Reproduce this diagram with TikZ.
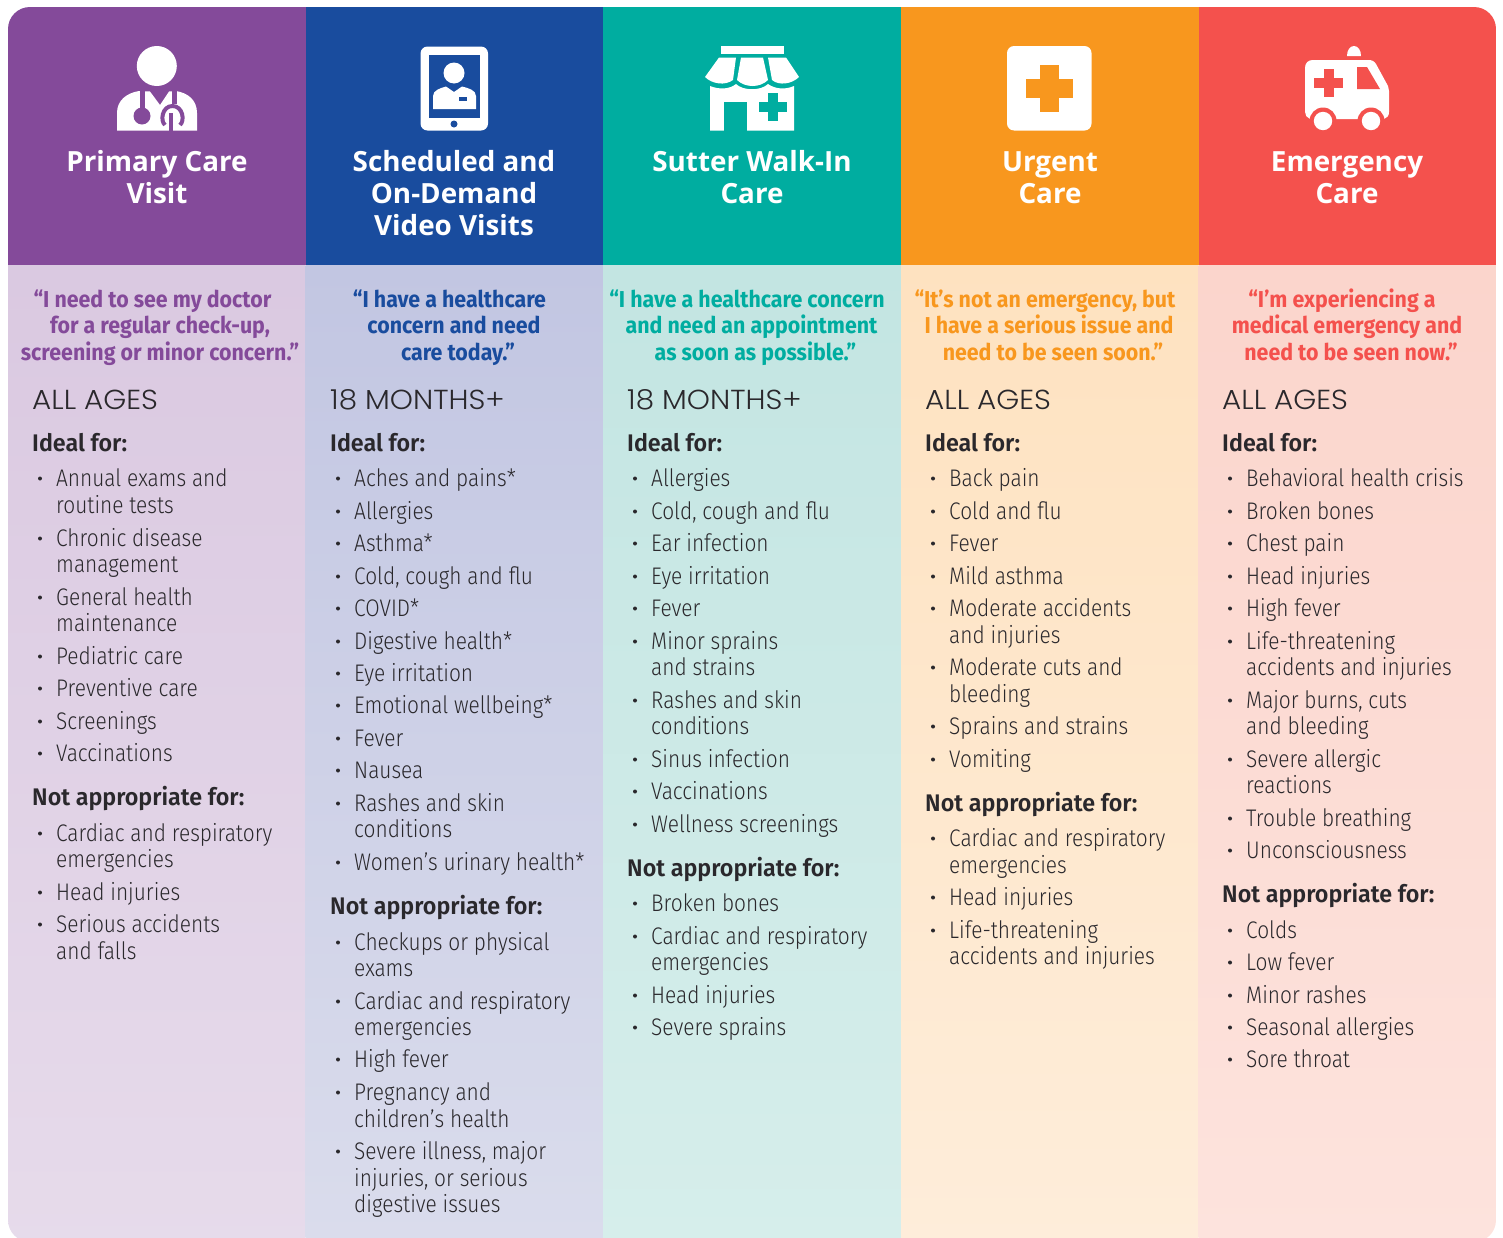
\documentclass[tikz,border=0pt]{standalone}
\usepackage{fontspec}
\setmainfont{Fira Sans}
\newfontfamily\bodyf[FakeStretch=0.87]{Fira Sans Light}
\newfontfamily\boldf[FakeStretch=0.97]{Fira Sans SemiBold}
\newfontfamily\quotef[FakeStretch=0.93]{Fira Sans Bold}
\newfontfamily\headf{Open Sans}
\newfontfamily\agef[FakeStretch=1.07]{Poppins Light}
\definecolor{cPurple}{HTML}{844A9A}
\definecolor{cBlue}{HTML}{194C9E}
\definecolor{cTeal}{HTML}{00ADA0}
\definecolor{cOrange}{HTML}{F8971E}
\definecolor{cRed}{HTML}{F4514D}
\definecolor{cInk}{HTML}{2A282C}
\newcounter{tn}
\def\cx{0}
\tikzset{
 x=1pt,y=-1pt,
 bodytxt/.style={anchor=base west,inner sep=0pt,text=cInk,font=\bodyf\fontsize{24}{26}\selectfont},
 headtxt/.style={anchor=base west,inner sep=0pt,text=cInk,font=\boldf\fontsize{24}{26}\selectfont},
 agetxt/.style={anchor=base west,inner sep=0pt,text=cInk,font=\agef\fontsize{27.5}{30}\selectfont},
 titletxt/.style={anchor=base,inner sep=0pt,text=white,font=\headf\bfseries\fontsize{27.8}{30}\selectfont},
 quotetxt/.style={anchor=base,inner sep=0pt,font=\quotef\fontsize{23}{26}\selectfont},
 icon/.style={fill=white,draw=none},
}
\newcommand\BI[2]{\fill[cInk] (\cx+8,#1+0.5) circle (2);\CI{#1}{#2}}
\newcommand\CI[2]{\stepcounter{tn}\node[bodytxt] (t\arabic{tn}) at (\cx+24,#1+8) {#2};}
\newcommand\HE[2]{\stepcounter{tn}\node[headtxt] (t\arabic{tn}) at (\cx,#1+8) {#2};}
\newcommand\AG[1]{\stepcounter{tn}\node[agetxt] (t\arabic{tn}) at (\cx,409.5) {#1};}
\newcommand\TI[3]{\stepcounter{tn}\node[titletxt] (t\arabic{tn}) at (#1,#2+1) {#3};}
\newcommand\QU[4]{\stepcounter{tn}\node[quotetxt,text=#1] (t\arabic{tn}) at (#2,#3+0.5) {#4};}
\begin{document}
\begin{tikzpicture}
\useasboundingbox (0,0) rectangle (1503,1237);
\begin{scope}
\clip[rounded corners=22pt] (8,7) rectangle (1496,1242);
\fill[cPurple] (8,7) rectangle (305.5,265);
\fill[cBlue] (305.5,7) rectangle (603,265);
\fill[cTeal] (603,7) rectangle (901,265);
\fill[cOrange] (901,7) rectangle (1198.5,265);
\fill[cRed] (1198.5,7) rectangle (1496,265);
\shade[top color=cPurple!30!white,bottom color=cPurple!20!white] (8,265) rectangle (305.5,1242);
\shade[top color={rgb,255:red,194;green,198;blue,226},bottom color={rgb,255:red,218;green,220;blue,236}] (305.5,265) rectangle (603,1242);
\shade[top color={rgb,255:red,195;green,229;blue,226},bottom color={rgb,255:red,214;green,238;blue,235}] (603,265) rectangle (901,1242);
\shade[top color={rgb,255:red,254;green,226;blue,192},bottom color={rgb,255:red,254;green,237;blue,218}] (901,265) rectangle (1198.5,1242);
\shade[top color={rgb,255:red,251;green,213;blue,204},bottom color={rgb,255:red,253;green,227;blue,221}] (1198.5,265) rectangle (1496,1242);
\end{scope}
% doctor icon
\fill[icon] (156.8,66) circle (20);
\fill[icon] (117,130.5) -- (117,113) .. controls (117,100) and (127,93) .. (139,91) -- (150,91.5) -- (160,105) -- (169,91.5) -- (176,91) .. controls (188,93) and (197,100) .. (197,113) -- (197,130.5) -- cycle;
\draw[cPurple,line width=5pt] (142.5,90) -- (142.5,110);
\fill[cPurple] (142,116) circle (8.5);
\draw[cPurple,line width=5pt] (174.5,90) -- (174.5,104);
\draw[cPurple,line width=4pt] (165,125) .. controls (160,121) and (162,106) .. (172.5,106) .. controls (183,106) and (185,121) .. (180,125);
\draw[cPurple,line width=3.6pt] (171,113) -- (171,130.5);
% tablet icon
\fill[icon,rounded corners=7pt] (420.5,46.5) rectangle (488,130.5);
\fill[cBlue] (429,55) rectangle (480,118);
\fill[icon] (454,73) circle (10.5);
\fill[icon] (433,109) -- (433,96) .. controls (433,90) and (441,88) .. (446,86.5) -- (454,92) -- (462,86.5) .. controls (468,88) and (476,90) .. (476,96) -- (476,109) -- cycle;
\fill[cBlue] (459,97) rectangle (467,101);
\fill[cBlue] (454,124) circle (3.5);
% store icon
\fill[icon] (721,46) rectangle (784,54);
\fill[icon] (719,57.5) -- (736,57.5) -- (733,80) .. controls (725,86) and (712,84) .. (705,77) -- cycle;
\fill[icon] (741,57.5) -- (763,57.5) -- (768,80) .. controls (760,88) and (745,88) .. (737,80) -- cycle;
\fill[icon] (768,57.5) -- (786,57.5) -- (799,77) .. controls (792,84) and (779,86) .. (772,80) -- cycle;
\fill[icon] (710,86) .. controls (720,90) and (730,89) .. (736,84) .. controls (743,91) and (761,91) .. (768,84) .. controls (775,89) and (785,90) .. (794,86) -- (794,130.5) -- (710,130.5) -- cycle;
\fill[cTeal] (724,102) rectangle (747,131);
\fill[cTeal] (768.3,93) rectangle (778,121);
\fill[cTeal] (759,102.3) rectangle (787,112);
% urgent icon
\fill[icon,rounded corners=7pt] (1007,46) rectangle (1091.5,130.5);
\fill[cOrange] (1040,65) rectangle (1059,112);
\fill[cOrange] (1026,79) rectangle (1073,98);
% ambulance icon
\fill[icon] (1347,56) .. controls (1347,50) and (1350,46) .. (1354,46) .. controls (1358,46) and (1361,50) .. (1361,56) -- cycle;
\fill[icon] (1305,68) .. controls (1305,63) and (1308,60) .. (1313,60) -- (1368,60) .. controls (1372,60) and (1374,61) .. (1376,64) -- (1388,86) .. controls (1389,88) and (1389,89) .. (1389,91) -- (1389,112) .. controls (1389,116) and (1387,118) .. (1384,119) -- (1310,119) .. controls (1307,118) and (1305,115) .. (1305,112) -- cycle;
\fill[cRed] (1323,121) circle (13.5);
\fill[cRed] (1371,121) circle (13.5);
\fill[icon] (1323,121) circle (9.2);
\fill[icon] (1371,121) circle (9.2);
\fill[cRed] (1357,67) -- (1367,67) -- (1380,89) -- (1357,89) -- cycle;
\fill[cRed] (1323.5,69) rectangle (1333.5,97);
\fill[cRed] (1314,78) rectangle (1343,88);
% titles
\TI{157}{170.7}{Primary Care}\TI{157}{202.5}{Visit}
\TI{454}{170.7}{Scheduled and}\TI{454}{202.5}{On-Demand}\TI{454}{234.5}{Video Visits}
\TI{752}{170.7}{Sutter Walk-In}\TI{752}{202.5}{Care}
\TI{1050}{170.7}{Urgent}\TI{1050}{202.5}{Care}
\TI{1347}{170.7}{Emergency}\TI{1347}{202.5}{Care}
% quotes
\QU{cPurple}{152.5}{306.7}{“I need to see my doctor}
\QU{cPurple}{160}{333}{for a regular check-up,}
\QU{cPurple}{160}{360}{screening or minor concern.”}
\QU{cBlue}{449.5}{306.7}{“I have a healthcare}
\QU{cBlue}{454}{333}{concern and need}
\QU{cBlue}{458}{360}{care today.”}
\QU{cTeal}{747}{306.7}{“I have a healthcare concern}
\QU{cTeal}{751.5}{333}{and need an appointment}
\QU{cTeal}{755.5}{360}{as soon as possible.”}
\QU{cOrange}{1045}{306.7}{“It’s not an emergency, but}
\QU{cOrange}{1049}{333}{I have a serious issue and}
\QU{cOrange}{1053}{360}{need to be seen soon.”}
\QU{cRed}{1342}{306.7}{“I’m experiencing a}
\QU{cRed}{1347}{333}{medical emergency and}
\QU{cRed}{1351}{360}{need to be seen now.”}
% column 1
\def\cx{32}
\AG{ALL AGES}\HE{443}{Ideal for:}
\BI{478}{Annual exams and}\CI{505}{routine tests}
\BI{538}{Chronic disease}\CI{564}{management}
\BI{597}{General health}\CI{623}{maintenance}
\BI{656}{Pediatric care}\BI{688}{Preventive care}\BI{721}{Screenings}\BI{753}{Vaccinations}
\HE{797}{Not appropriate for:}
\BI{833}{Cardiac and respiratory}\CI{859}{emergencies}
\BI{892}{Head injuries}
\BI{924}{Serious accidents}\CI{951}{and falls}
% column 2
\def\cx{330}
\AG{18 MONTHS+}\HE{443}{Ideal for:}
\BI{478}{Aches and pains*}\BI{511}{Allergies}\BI{543}{Asthma*}
\BI{576}{Cold, cough and flu}\BI{608}{COVID*}\BI{641}{Digestive health*}
\BI{673}{Eye irritation}\BI{705}{Emotional wellbeing*}\BI{738}{Fever}\BI{770}{Nausea}
\BI{803}{Rashes and skin}\CI{829}{conditions}
\BI{862}{Women’s urinary health*}
\HE{906}{Not appropriate for:}
\BI{942}{Checkups or physical}\CI{968}{exams}
\BI{1001}{Cardiac and respiratory}\CI{1027}{emergencies}
\BI{1059}{High fever}
\BI{1092}{Pregnancy and}\CI{1119}{children’s health}
\BI{1151}{Severe illness, major}\CI{1178}{injuries, or serious}\CI{1204}{digestive issues}
% column 3
\def\cx{627}
\AG{18 MONTHS+}\HE{443}{Ideal for:}
\BI{478}{Allergies}\BI{511}{Cold, cough and flu}\BI{543}{Ear infection}
\BI{576}{Eye irritation}\BI{608}{Fever}
\BI{641}{Minor sprains}\CI{667}{and strains}
\BI{700}{Rashes and skin}\CI{726}{conditions}
\BI{759}{Sinus infection}\BI{791}{Vaccinations}\BI{824}{Wellness screenings}
\HE{868}{Not appropriate for:}
\BI{903}{Broken bones}
\BI{936}{Cardiac and respiratory}\CI{962}{emergencies}
\BI{995}{Head injuries}\BI{1027}{Severe sprains}
% column 4
\def\cx{925}
\AG{ALL AGES}\HE{443}{Ideal for:}
\BI{478}{Back pain}\BI{511}{Cold and flu}\BI{543}{Fever}\BI{576}{Mild asthma}
\BI{608}{Moderate accidents}\CI{635}{and injuries}
\BI{667}{Moderate cuts and}\CI{694}{bleeding}
\BI{726}{Sprains and strains}\BI{759}{Vomiting}
\HE{803}{Not appropriate for:}
\BI{838}{Cardiac and respiratory}\CI{865}{emergencies}
\BI{897}{Head injuries}
\BI{930}{Life-threatening}\CI{956}{accidents and injuries}
% column 5
\def\cx{1222}
\AG{ALL AGES}\HE{443}{Ideal for:}
\BI{478}{Behavioral health crisis}\BI{511}{Broken bones}\BI{543}{Chest pain}
\BI{576}{Head injuries}\BI{608}{High fever}
\BI{641}{Life-threatening}\CI{667}{accidents and injuries}
\BI{700}{Major burns, cuts}\CI{726}{and bleeding}
\BI{759}{Severe allergic}\CI{785}{reactions}
\BI{818}{Trouble breathing}\BI{850}{Unconsciousness}
\HE{894}{Not appropriate for:}
\BI{930}{Colds}\BI{962}{Low fever}\BI{995}{Minor rashes}
\BI{1027}{Seasonal allergies}\BI{1059}{Sore throat}
\end{tikzpicture}
\end{document}
